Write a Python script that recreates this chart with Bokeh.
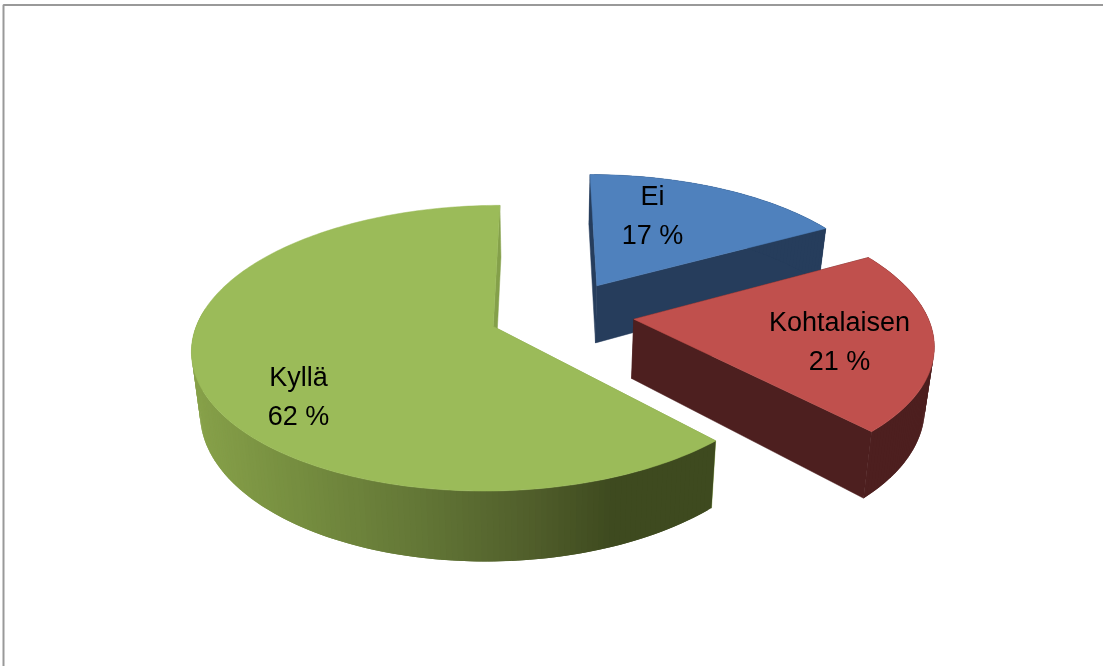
import numpy as np
from bokeh.plotting import figure
from bokeh.models import Range1d
from bokeh.core.properties import value
from bokeh.embed import file_html
from bokeh.resources import INLINE

# data
categories = ["Ei", "Kohtalaisen", "Kyllä"]
percents = [17, 21, 62]
top_colors = ["#4F81BD", "#C0504D", "#9BBB59"]
radial_colors = ["#263D5C", "#4D1F1F", "#84A04A"]
label_anchor = [(652, 215), (839, 341), (298, 396)]

# camera
VX, VY = 543.0, -591.6
H = 905.0
X0 = 18.0
F = 293.0
K = 0.15
M = 0.025
DEPTH = 83.0
EXPL = 0.248


def project(X, Y, z):
    X = np.asarray(X, float)
    Y = np.asarray(Y, float)
    d = (1 + K * Y) * (1 + M * z)
    return VX + (X0 + F * X) / d, VY + (H + DEPTH * z) / d


def green_shade(sx):
    stops_x = [190, 300, 420, 530, 620, 720]
    r = np.interp(sx, stops_x, [136, 118, 100, 82, 62, 62])
    g = np.interp(sx, stops_x, [162, 142, 120, 96, 74, 74])
    b = np.interp(sx, stops_x, [74, 64, 55, 44, 31, 31])
    return "#%02x%02x%02x" % (int(r), int(g), int(b))


p = figure(width=1103, height=666, x_range=Range1d(0, 1103), y_range=Range1d(666, 0),
           output_backend="svg", toolbar_location=None, min_border=0,
           x_axis_location=None, y_axis_location=None)
p.grid.visible = False
p.outline_line_color = None
p.styles = {"position": "fixed", "left": "0px", "top": "0px"}

p.line([3, 3, 1103], [666, 4.5, 4.5], line_color="#999999", line_width=2)

angles = np.cumsum([0] + percents) / sum(percents) * 2 * np.pi
for i, name in enumerate(categories):
    a0, a1 = angles[i], angles[i + 1]
    mid = (a0 + a1) / 2
    ox, oy = EXPL * np.sin(mid), EXPL * np.cos(mid)
    th = np.linspace(a0, a1, int((a1 - a0) / np.radians(1)) + 2)
    rx, ry = ox + np.sin(th), oy + np.cos(th)

    # radial walls
    for a in (a0, a1):
        ex, ey = ox + np.sin(a), oy + np.cos(a)
        tx, ty = project([ox, ex], [oy, ey], 0)
        bx, by = project([ex, ox], [ey, oy], 1)
        col = radial_colors[i]
        p.patch(list(tx) + list(bx), list(ty) + list(by), fill_color=col, line_color=col, line_width=0.5)

    # rim wall: facets overlap so that no seams show
    tx, ty = project(rx, ry, 0)
    bx, by = project(rx, ry, 1)
    xs, ys, cs = [], [], []
    n = len(th)
    order = range(n - 1) if i != 2 else range(n - 2, -1, -1)
    for j in order:
        if np.cos(th[j]) > 0.1 and i == 2:
            continue
        k = min(j + 2, n - 1)
        xs.append([tx[j], tx[k], bx[k], bx[j]])
        ys.append([ty[j], ty[k], by[k], by[j]])
        if i == 2:
            cs.append(green_shade((tx[j] + tx[j + 1]) / 2))
        else:
            cs.append(radial_colors[i])
    p.patches(xs, ys, fill_color=cs, line_color=None)

    # top face
    ax, ay = project([ox], [oy], 0)
    p.patch([ax[0]] + list(tx), [ay[0]] + list(ty), fill_color=top_colors[i], line_color=top_colors[i], line_width=0.5)

labels = [f"{c}\n{v} %" for c, v in zip(categories, percents)]
p.text([a[0] for a in label_anchor], [a[1] for a in label_anchor], text=labels,
       text_align="center", text_baseline="middle", text_color="#000000",
       text_font=value("Liberation Sans"), text_font_size="27px", text_line_height=1.27)

open("out.html", "w").write(file_html(p, INLINE))
